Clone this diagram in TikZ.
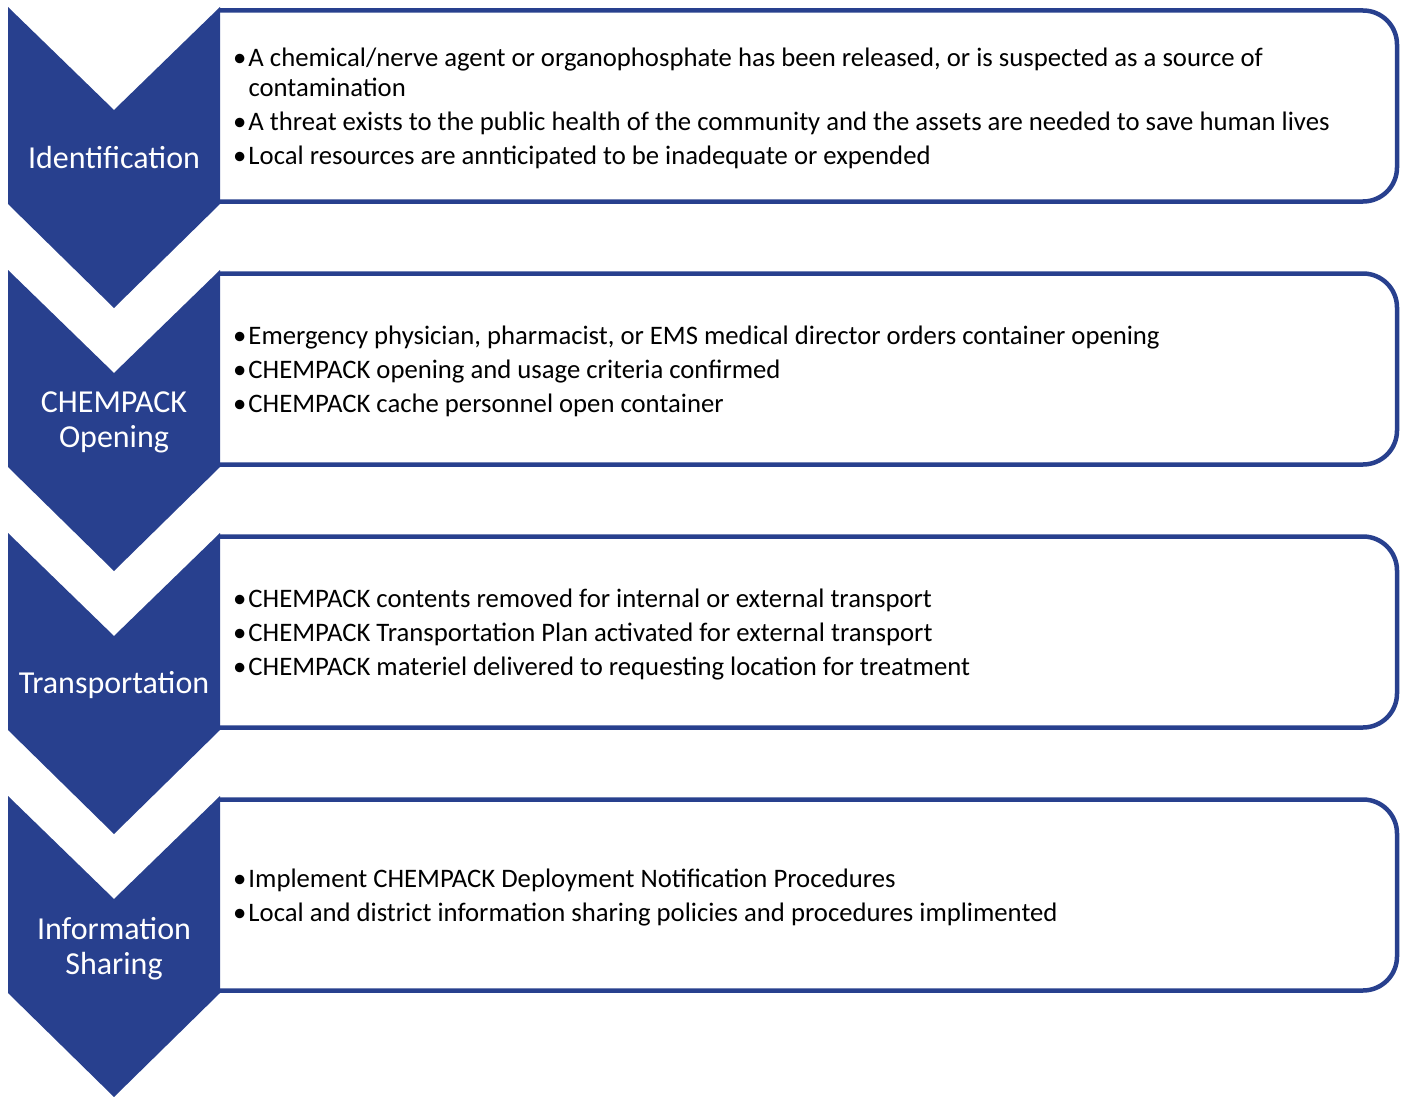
\documentclass[tikz,border=0pt]{standalone}
\usepackage{fontspec}
\setmainfont{Carlito}
\usepackage{xcolor}
\usepackage{tikz}
\definecolor{chevblue}{RGB}{40,64,142}
\newcommand{\bul}{•\hspace{2pt}}

\begin{document}
\begin{tikzpicture}[x=1pt,y=-1pt,
    chev/.style={fill=chevblue,draw=none},
    stepbox/.style={draw=chevblue,line width=4.5pt,rounded corners=34pt},
    stagename/.style={text=white,align=center,inner sep=0pt,font=\fontsize{32}{35}\selectfont},
    bullettext/.style={anchor=west,align=left,inner sep=0pt,font=\fontsize{26.7}{30}\selectfont}]
    \useasboundingbox (0,0) rectangle (1406,1097);

    \draw[stepbox] (220,10.5) -- (1397,10.5) -- (1397,201.5) -- (220,201.5);
    \draw[stepbox] (220,273.5) -- (1397,273.5) -- (1397,464.5) -- (220,464.5);
    \draw[stepbox] (220,536.5) -- (1397,536.5) -- (1397,727.5) -- (220,727.5);
    \draw[stepbox] (220,799.5) -- (1397,799.5) -- (1397,990.5) -- (220,990.5);

    \fill[chev] (8,7) -- (114,110) -- (220,7) -- (220,204) -- (114,308) -- (8,204) -- cycle;
    \fill[chev] (8,270) -- (114,373) -- (220,270) -- (220,467) -- (114,571) -- (8,467) -- cycle;
    \fill[chev] (8,533) -- (114,636) -- (220,533) -- (220,730) -- (114,834) -- (8,730) -- cycle;
    \fill[chev] (8,796) -- (114,899) -- (220,796) -- (220,993) -- (114,1097) -- (8,993) -- cycle;

    \node[stagename] (ident) at (114,158) {Identification};
    \node[stagename] (open) at (114,422) {CHEMPACK\\Opening};
    \node[stagename] (trans) at (114,685) {Transportation};
    \node[stagename] (info) at (114,949) {Information\\Sharing};

    \node[bullettext] (identtxt) at (233,108.5) {\bul A chemical/nerve agent or organophosphate has been released, or is suspected as a source of\\\phantom{\bul}contamination\\[4pt]
        \bul A threat exists to the public health of the community and the assets are needed to save human lives\\[4pt]
        \bul Local resources are annticipated to be inadequate or expended};
    \node[bullettext] (opentxt) at (233,371.5) {\bul Emergency physician, pharmacist, or EMS medical director orders container opening\\[4pt]
        \bul CHEMPACK opening and usage criteria confirmed\\[4pt]
        \bul CHEMPACK cache personnel open container};
    \node[bullettext] (transtxt) at (233,634.5) {\bul CHEMPACK contents removed for internal or external transport\\[4pt]
        \bul CHEMPACK Transportation Plan activated for external transport\\[4pt]
        \bul CHEMPACK materiel delivered to requesting location for treatment};
    \node[bullettext] (infotxt) at (233,897.5) {\bul Implement CHEMPACK Deployment Notification Procedures\\[4pt]
        \bul Local and district information sharing policies and procedures implimented};
\end{tikzpicture}
\end{document}
